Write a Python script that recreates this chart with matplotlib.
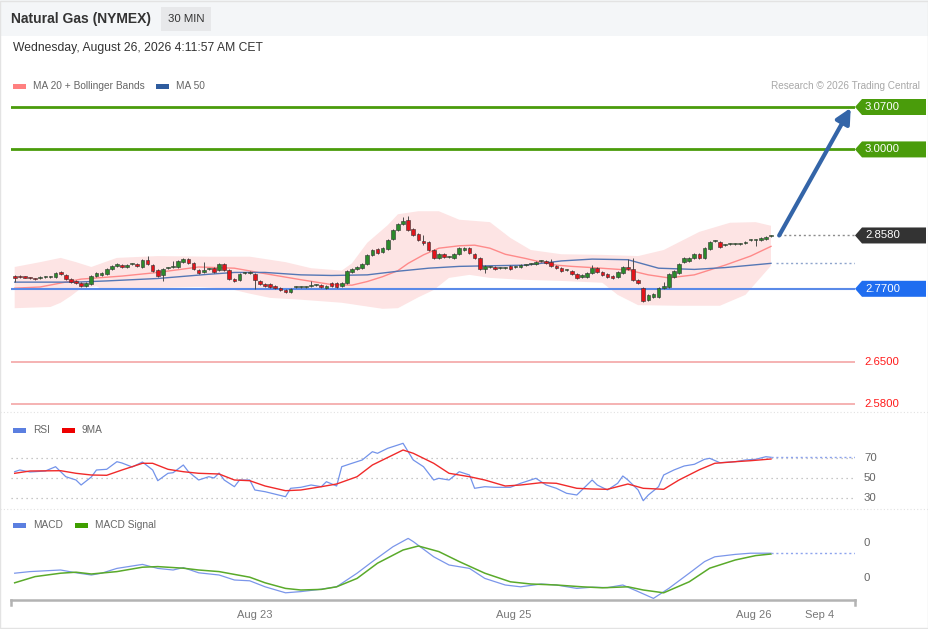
import matplotlib
matplotlib.use("Agg")
import matplotlib.pyplot as plt
from matplotlib.patches import Rectangle, Polygon
import numpy as np

plt.rcParams["font.family"] = ["Liberation Sans", "DejaVu Sans"]

# ── Data ──────────────────────────────────────────────────────────────────────
opens = [
    2.7916, 2.7905, 2.7895, 2.7875, 2.7868, 2.7870, 2.7893, 2.7893, 2.7888, 2.7971,
    2.7932, 2.7860, 2.7822, 2.7799, 2.7746, 2.7783, 2.7910, 2.7932, 2.7939, 2.8031,
    2.8081, 2.8092, 2.8054, 2.8109, 2.8104, 2.8064, 2.8175, 2.8097, 2.8010, 2.7922,
    2.8043, 2.8054, 2.8054, 2.8142, 2.8197, 2.8120, 2.8010, 2.7982, 2.8021, 2.8038,
    2.8015, 2.8104, 2.8010, 2.7866, 2.7839, 2.7965, 2.7965, 2.7939, 2.7834, 2.7784,
    2.7779, 2.7750, 2.7721, 2.7685, 2.7645, 2.7723, 2.7734, 2.7734, 2.7740, 2.7756,
    2.7756, 2.7719, 2.7795, 2.7802, 2.7740, 2.7789, 2.7971, 2.8026, 2.8038, 2.8104,
    2.8253, 2.8352, 2.8302, 2.8362, 2.8517, 2.8670, 2.8763, 2.8830, 2.8687, 2.8599,
    2.8489, 2.8477, 2.8335, 2.8203, 2.8274, 2.8220, 2.8203, 2.8274, 2.8340, 2.8378,
    2.8279, 2.8213, 2.8021, 2.8065, 2.8065, 2.8048, 2.8038, 2.8076, 2.8065, 2.8060,
    2.8087, 2.8104, 2.8104, 2.8158, 2.8158, 2.8147, 2.8076, 2.8038, 2.8010, 2.7993,
    2.7939, 2.7894, 2.7899, 2.7961, 2.8048, 2.7982, 2.7939, 2.7916, 2.7889, 2.7955,
    2.8054, 2.8021, 2.7845, 2.7708, 2.7510, 2.7570, 2.7570, 2.7708, 2.7725, 2.7894,
    2.7966, 2.8147, 2.8164, 2.8203, 2.8269, 2.8203, 2.8357, 2.8484, 2.8472, 2.8418,
    2.8440, 2.8444, 2.8444, 2.8451, 2.8500, 2.8505, 2.8505, 2.8522, 2.8568,
]
closes = [
    2.7873, 2.7895, 2.7885, 2.7873, 2.7866, 2.7890, 2.7893, 2.7893, 2.7964, 2.7948,
    2.7866, 2.7810, 2.7799, 2.7749, 2.7799, 2.7910, 2.7955, 2.7955, 2.8026, 2.8081,
    2.8109, 2.8054, 2.8092, 2.8109, 2.8076, 2.8175, 2.8109, 2.7998, 2.7916, 2.8021,
    2.8043, 2.8054, 2.8153, 2.8186, 2.8131, 2.8021, 2.7965, 2.8010, 2.8021, 2.7982,
    2.8104, 2.8005, 2.7862, 2.7833, 2.7949, 2.7965, 2.7976, 2.7845, 2.7784, 2.7746,
    2.7735, 2.7705, 2.7682, 2.7639, 2.7690, 2.7723, 2.7734, 2.7734, 2.7740, 2.7756,
    2.7729, 2.7752, 2.7752, 2.7729, 2.7802, 2.7987, 2.8026, 2.8054, 2.8104, 2.8253,
    2.8340, 2.8286, 2.8378, 2.8510, 2.8670, 2.8763, 2.8818, 2.8670, 2.8588, 2.8510,
    2.8461, 2.8340, 2.8203, 2.8269, 2.8220, 2.8220, 2.8274, 2.8368, 2.8373, 2.8286,
    2.8213, 2.8021, 2.8076, 2.8065, 2.8026, 2.8048, 2.8038, 2.8032, 2.8065, 2.8092,
    2.8087, 2.8104, 2.8137, 2.8158, 2.8131, 2.8076, 2.8038, 2.7993, 2.8010, 2.7939,
    2.7883, 2.7927, 2.7955, 2.8048, 2.7982, 2.7927, 2.7889, 2.7873, 2.7971, 2.8065,
    2.8026, 2.7850, 2.7790, 2.7499, 2.7598, 2.7609, 2.7719, 2.7741, 2.7949, 2.7999,
    2.8114, 2.8203, 2.8203, 2.8269, 2.8203, 2.8368, 2.8477, 2.8484, 2.8395, 2.8418,
    2.8440, 2.8444, 2.8444, 2.8477, 2.8500, 2.8505, 2.8533, 2.8550, 2.8580,
]
# visible long wicks only
wick_high = {26: 2.8246, 31: 2.8158, 37: 2.8142, 58: 2.7827, 76: 2.8884, 77: 2.8901,
             80: 2.8588, 105: 2.8192, 113: 2.8092, 120: 2.8192, 121: 2.8213, 127: 2.7810}
wick_low = {0: 2.7812, 29: 2.7833, 47: 2.7692, 80: 2.8423, 92: 2.7965, 123: 2.7480,
            124: 2.7494, 145: 2.8411}

bb_upper_idx = [0, 5, 9, 12, 15, 20, 28, 38, 46, 53, 58, 64, 66, 69, 73, 75, 79, 83, 87, 93,
                97, 101, 107, 115, 122, 127, 134, 140, 145, 148]
bb_upper = [2.806, 2.814, 2.821, 2.814, 2.806, 2.821, 2.824, 2.823, 2.823, 2.814, 2.804, 2.800,
            2.812, 2.846, 2.875, 2.893, 2.898, 2.898, 2.884, 2.880, 2.854, 2.834, 2.827, 2.826,
            2.824, 2.834, 2.864, 2.879, 2.880, 2.874]
bb_lower_idx = [0, 7, 9, 11, 13, 16, 17, 26, 36, 42, 46, 50, 56, 64, 72, 75, 79, 82, 85, 89,
                93, 99, 107, 115, 118, 122, 130, 138, 143, 148]
bb_lower = [2.738, 2.740, 2.747, 2.758, 2.771, 2.774, 2.770, 2.771, 2.773, 2.770, 2.762, 2.755,
            2.752, 2.747, 2.737, 2.738, 2.756, 2.768, 2.788, 2.793, 2.788, 2.785, 2.783, 2.780,
            2.760, 2.743, 2.742, 2.742, 2.760, 2.808]
ma20_idx = [0, 5, 13, 21, 28, 36, 43, 49, 56, 62, 66, 69, 72, 75, 77, 80, 83, 87, 90, 93, 96,
            100, 103, 106, 109, 113, 120, 124, 128, 133, 139, 144, 148]
ma20 = [2.771, 2.773, 2.786, 2.791, 2.797, 2.806, 2.804, 2.795, 2.785, 2.777, 2.776, 2.782,
        2.790, 2.800, 2.812, 2.826, 2.837, 2.841, 2.842, 2.837, 2.827, 2.820, 2.814, 2.809,
        2.807, 2.805, 2.801, 2.793, 2.788, 2.793, 2.809, 2.824, 2.840]
ma50_idx = [0, 12, 18, 28, 38, 43, 49, 56, 62, 69, 75, 81, 87, 93, 100, 107, 113, 120, 126,
            133, 139, 148]
ma50 = [2.781, 2.781, 2.783, 2.787, 2.794, 2.797, 2.797, 2.793, 2.792, 2.793, 2.799, 2.804,
        2.807, 2.808, 2.809, 2.816, 2.819, 2.818, 2.804, 2.802, 2.805, 2.812]

rsi_idx = [0, 1, 3, 6, 8, 10, 12, 13, 15, 16, 18, 20, 21, 23, 25, 27, 28, 30, 31, 33, 34, 36,
           38, 39, 40, 41, 43, 44, 46, 47, 49, 53, 54, 56, 58, 60, 61, 63, 64, 66, 68, 70, 71,
           73, 75, 76, 77, 78, 80, 82, 83, 85, 87, 89, 90, 92, 94, 97, 99, 102, 104, 106, 108,
           110, 111, 113, 114, 116, 118, 119, 120, 122, 123, 124, 126, 127, 129, 131, 133, 135,
           136, 138, 141, 143, 145, 147, 148]
rsi = [56.3, 58, 56, 57, 61.3, 51.3, 48, 43, 51, 58, 58.7, 66.3, 65, 61, 66, 58, 47.3, 54.7,
       55.3, 63, 56.3, 48, 51.3, 50, 55, 48, 41.3, 48, 48, 38, 36.3, 31.3, 39.7, 40.7, 43, 41.3,
       46.3, 42, 61.3, 64.7, 68, 76.3, 74.7, 79.7, 83, 84.7, 76.3, 68, 61.3, 48, 49.7, 48, 56.3,
       53, 39.7, 41.3, 40.7, 40.7, 44.7, 49.7, 43, 39.7, 34.7, 33, 38, 48, 43, 38, 44.7, 52, 48,
       38, 27.3, 33, 41.3, 53, 58, 62, 63.7, 68.7, 69.7, 65.3, 66.3, 68, 68.7, 71.3, 70.7]
rsi_ma_idx = [0, 3, 9, 12, 15, 18, 21, 25, 27, 30, 33, 36, 40, 43, 46, 49, 53, 56, 60, 63, 67,
              70, 74, 76, 78, 82, 85, 89, 92, 96, 99, 103, 106, 110, 113, 116, 120, 123, 127,
              130, 134, 137, 141, 144, 148]
rsi_ma = [54.7, 57, 57.3, 54.7, 53, 52.7, 58, 64.7, 64.7, 58.7, 56.3, 54.7, 54, 48, 47.3, 42,
          37.3, 38, 41.3, 44, 51.3, 63, 73, 78, 74.7, 64.7, 54.7, 51.3, 48, 42, 43, 45.3, 44.7,
          39.7, 39, 38.7, 44, 39.7, 38.7, 48, 58.3, 64.7, 66.3, 67.3, 69]

# MACD in thousandths
macd_idx = [0, 3, 9, 12, 15, 17, 20, 25, 28, 31, 33, 36, 40, 43, 46, 49, 53, 56, 60, 63, 67,
            70, 74, 77, 78, 82, 85, 89, 92, 96, 99, 103, 106, 110, 113, 116, 119, 122, 125,
            128, 132, 135, 137, 141, 144, 148]
macd = [2.4, 3.2, 4.0, 2.6, 1.5, 2.4, 4.8, 6.8, 4.8, 4.0, 5.2, 2.6, 1.5, -1.0, -1.4, -4.4,
        -7.4, -6.8, -5.6, -4.4, 2.4, 8.2, 15.6, 19.8, 18.2, 10.6, 6.5, 4.8, -0.2, -3.5, -4.4,
        -3.0, -3.5, -5.2, -4.6, -4.8, -3.5, -6.8, -10.2, -5.2, 2.4, 8.2, 10.6, 11.8, 12.4, 12.4]
signal_idx = [0, 4, 9, 12, 15, 20, 25, 28, 33, 36, 40, 46, 49, 53, 56, 60, 63, 67, 71, 76, 79,
              83, 87, 92, 97, 101, 106, 111, 115, 120, 123, 127, 132, 136, 141, 145, 148]
signal = [-2.4, 0.7, 2.4, 2.9, 2.0, 3.2, 5.4, 5.7, 4.9, 4.0, 3.2, 0.4, -2.4, -5.2, -6.0, -5.7,
          -4.4, -0.2, 7.4, 14.0, 16.0, 13.2, 8.2, 2.4, -1.9, -3.0, -3.5, -4.4, -4.9, -4.4,
          -6.0, -7.4, -1.9, 4.9, 9.0, 11.2, 12.0]

levels_green = [3.07, 3.00]
level_blue = 2.77
levels_red = [2.65, 2.58]
last_price = 2.858
target = 3.07
date_ticks = [46.9, 97.7, 144.7, 157.6]
date_labels = ["Aug 23", "Aug 25", "Aug 26", "Sep 4"]

# ── Colours ───────────────────────────────────────────────────────────────────
GREEN_LVL = "#4a9c0b"
BLUE_LVL = "#5a8ae8"
BLUE_TAG = "#1f6df0"
RED_LVL = "#f4a6a6"
RED_TXT = "#ff1a1a"
GREY_TXT = "#666666"
BAND = "#fde4e4"

W, H = 929, 629
fig = plt.figure(figsize=(W / 100, H / 100), dpi=100)
fig.patch.set_facecolor("white")


def px_axes(left, top, right, bottom, **kw):
    return fig.add_axes([left / W, 1 - bottom / H, (right - left) / W, (bottom - top) / H], **kw)


bg = px_axes(0, 0, W, H, zorder=-5)
bg.set_xlim(0, W); bg.set_ylim(H, 0); bg.axis("off")
bg.add_patch(Rectangle((0, 0), W, 36, fc="#f4f6f8", ec="none"))
bg.add_patch(Rectangle((0.5, 0.5), W - 1.5, H - 1.5, fill=False, ec="#e3e3e3", lw=1))

XMIN, XMAX = -0.72, 164.44

# ── Main price panel ──────────────────────────────────────────────────────────
ax = px_axes(11, 95, 855, 412)
ax.set_xlim(XMIN, XMAX)
ax.set_ylim(2.5667, 3.0898)
ax.axis("off")

ax.fill(np.r_[bb_upper_idx, bb_lower_idx[::-1]], np.r_[bb_upper, bb_lower[::-1]],
        color=BAND, lw=0, zorder=1)
ax.plot(ma20_idx, ma20, color="#ff8a8a", lw=1, zorder=2)
ax.plot(ma50_idx, ma50, color="#5577b5", lw=1, zorder=2)

for lv in levels_green:
    ax.axhline(lv, color=GREEN_LVL, lw=2, zorder=2)
ax.axhline(level_blue, color=BLUE_LVL, lw=1.5, zorder=2)
for lv in levels_red:
    ax.axhline(lv, color=RED_LVL, lw=1.2, zorder=2)

for i, (o, c) in enumerate(zip(opens, closes)):
    lo, hi = min(o, c), max(o, c)
    col = "#2b8a2b" if c >= o else "#e3141b"
    ax.vlines(i, wick_low.get(i, lo - 0.0015), wick_high.get(i, hi + 0.0015),
              color="#4d4d4d", lw=0.7, zorder=3)
    ax.add_patch(Rectangle((i - 0.36, lo), 0.72, max(hi - lo, 0.0018),
                           fc=col, ec="#333333", lw=0.4, zorder=4))

n = len(closes)
ax.hlines(last_price, n + 0.6, XMAX, colors="#8c8c8c", linestyles=(0, (1.5, 2)), lw=1)
ax.hlines(ma50[-1], n, XMAX, colors="#8ea4cc", linestyles=(0, (1.5, 2)), lw=1)
ax.annotate("", xy=(163.6, target - 0.0015), xytext=(n + 0.6, last_price),
            arrowprops=dict(arrowstyle="-|>,head_length=0.9,head_width=0.45",
                            lw=3, color="#3465a8", shrinkA=0, shrinkB=0), zorder=6)

# ── RSI panel ─────────────────────────────────────────────────────────────────
ax_rsi = px_axes(11, 420, 855, 510)
ax_rsi.set_xlim(XMIN, XMAX)
ax_rsi.set_ylim(18, 108)
ax_rsi.axis("off")
for lv in (70, 50, 30):
    ax_rsi.axhline(lv, color="#b5b5b5", lw=0.9, ls=(0, (1, 3)))
ax_rsi.plot(rsi_idx, rsi, color="#7393ea", lw=0.9)
ax_rsi.plot(rsi_ma_idx, rsi_ma, color="#f02a2a", lw=1.0)
ax_rsi.hlines(rsi[-1], rsi_idx[-1], XMAX, colors="#8ea4ee", linestyles=(0, (1.5, 2)), lw=1)

# ── MACD panel ────────────────────────────────────────────────────────────────
ax_m = px_axes(11, 515, 855, 600)
ax_m.set_xlim(XMIN, XMAX)
ax_m.set_ylim(-11, 31.5)
ax_m.plot(macd_idx, macd, color="#7b96ea", lw=0.9)
ax_m.plot(signal_idx, signal, color="#5aaa2a", lw=1.1)
ax_m.hlines(macd[-1], macd_idx[-1], XMAX, colors="#8ea4ee", linestyles=(0, (1.5, 2)), lw=1)
for s in ("top", "left", "right"):
    ax_m.spines[s].set_visible(False)
ax_m.spines["bottom"].set_color("#b3b3b3")
ax_m.spines["bottom"].set_linewidth(1.8)
ax_m.set_yticks([])
ax_m.set_xticks(date_ticks)
ax_m.set_xticklabels(date_labels, fontsize=8, color="#777777")
ax_m.tick_params(axis="x", length=0, pad=7)
ax_m.patch.set_alpha(0)

# ── Overlay: header, legends, tags ────────────────────────────────────────────
fg = px_axes(0, 0, W, H, zorder=10)
fg.set_xlim(0, W); fg.set_ylim(H, 0); fg.axis("off")
fg.patch.set_alpha(0)


def to_px(a, x, y):
    return fg.transData.inverted().transform(a.transData.transform((x, y)))


fg.text(11, 19, "Natural Gas (NYMEX)", fontsize=10, weight="bold", color="#333333",
        va="center")
fg.add_patch(Rectangle((161, 7), 50, 24, fc="#e7e8ea", ec="none"))
fg.text(186, 19, "30 MIN", fontsize=8.2, color="#333333", va="center", ha="center")
fg.text(13, 48, "Wednesday, August 26, 2026 4:11:57 AM CET", fontsize=8.7,
        color="#333333", va="center")


def legend_item(x, y, color, label, gap=7):
    fg.add_patch(Rectangle((x, y - 2.5), 13, 5, fc=color, ec="none"))
    fg.text(x + 13 + gap, y, label, fontsize=7.3, color=GREY_TXT, va="center")


legend_item(13, 86, "#ff8080", "MA 20 + Bollinger Bands")
legend_item(156, 86, "#2f5c9e", "MA 50")
fg.text(920, 86, "Research \u00a9 2026 Trading Central", fontsize=7.2, color="#a8a8a8",
        va="center", ha="right")
legend_item(13, 430, "#5b7fe0", "RSI")
legend_item(62, 430, "#ee0000", "9MA")
legend_item(13, 525, "#5b7fe0", "MACD")
legend_item(75, 525, "#3f9f00", "MACD Signal")


def level_tag(price, text, color):
    _, py = to_px(ax, 0, price)
    fg.add_patch(Polygon([[855, py], [862, py - 8], [926, py - 8], [926, py + 8],
                          [862, py + 8]], closed=True, fc=color, ec="none"))
    fg.text(865, py, text, fontsize=8.2, color="white", va="center")


level_tag(levels_green[0], f"{levels_green[0]:.4f}", GREEN_LVL)
level_tag(levels_green[1], f"{levels_green[1]:.4f}", GREEN_LVL)
level_tag(last_price, f"{last_price:.4f}", "#333333")
level_tag(level_blue, f"{level_blue:.4f}", BLUE_TAG)
for lv in levels_red:
    _, py = to_px(ax, 0, lv)
    fg.text(864, py, f"{lv:.4f}", fontsize=8.2, color=RED_TXT, va="center")

for lv in (70, 50, 30):
    _, py = to_px(ax_rsi, 0, lv)
    fg.text(864, py, str(lv), fontsize=8.2, color=GREY_TXT, va="center")
for v in (17.5, 0):
    _, py = to_px(ax_m, 0, v)
    fg.text(864, py, "0", fontsize=8.2, color=GREY_TXT, va="center")

# panel separators and axis end ticks
for y in (412, 509):
    fg.plot([0, W], [y, y], color="#e2e2e2", lw=0.8, ls=(0, (1, 2)))
for x in (11, 855):
    fg.plot([x, x], [600, 605], color="#b3b3b3", lw=1.8)

fig.savefig("out.png", dpi=100)
